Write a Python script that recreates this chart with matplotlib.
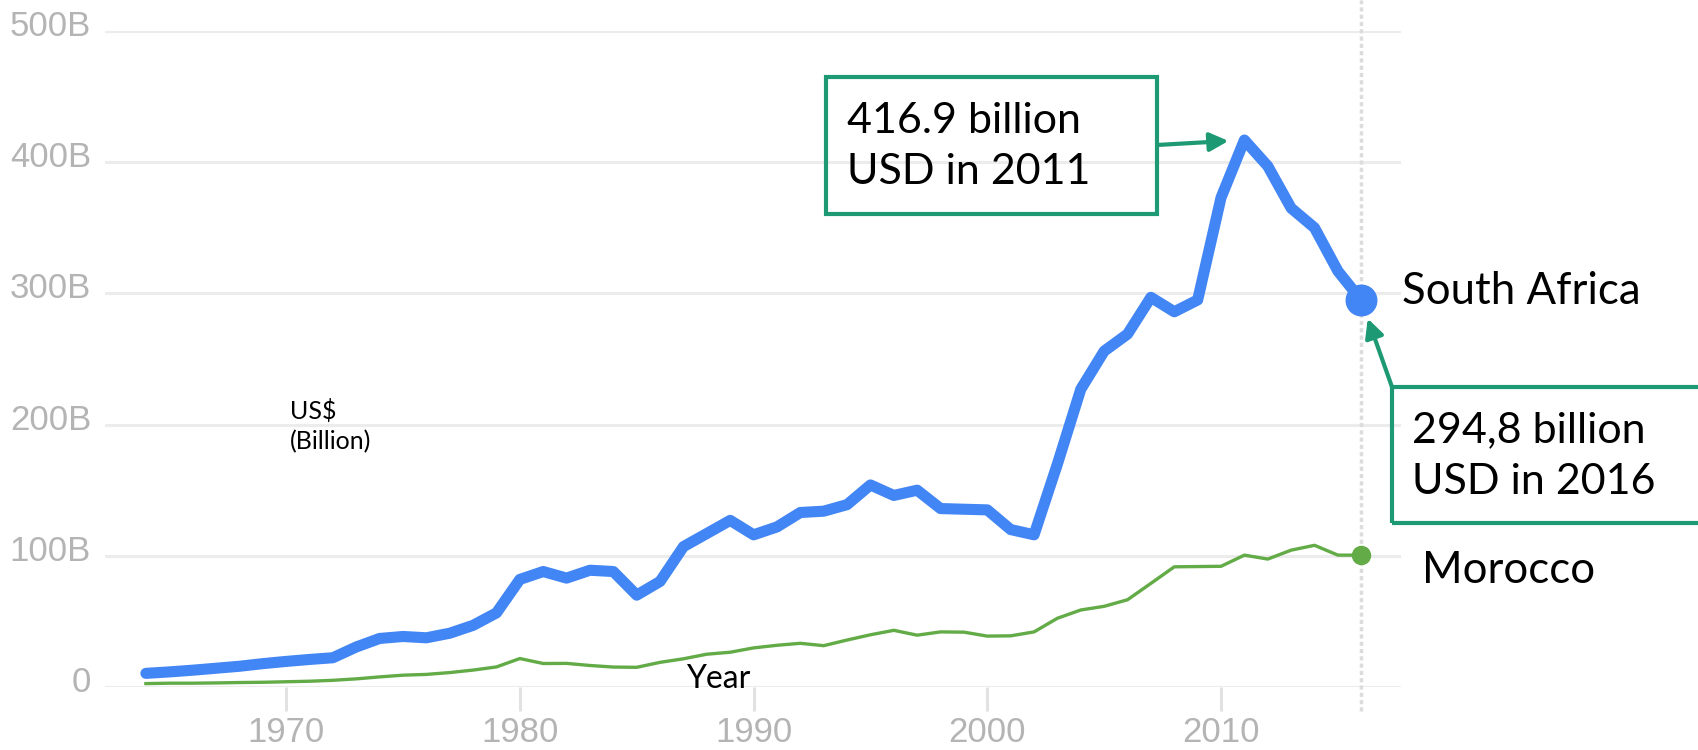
import matplotlib
matplotlib.use("Agg")
import matplotlib.pyplot as plt
from matplotlib.patches import Rectangle
from matplotlib.transforms import ScaledTranslation

# GDP, current US$ (billions)
years = list(range(1964, 2017))
south_africa = [10.4, 11.5, 12.8, 14.3, 15.8, 17.8, 19.5, 21.0, 22.3, 30.5,
                37.0, 38.5, 37.5, 41.0, 47.0, 56.5, 82.0, 88.0, 83.0, 89.0,
                88.0, 70.0, 80.5, 107.0, 117.0, 127.0, 116.0, 122.0, 133.0, 134.0,
                139.0, 154.0, 146.0, 150.0, 136.0, 135.5, 135.0, 120.0, 116.0, 170.0,
                227.0, 256.0, 269.0, 297.0, 286.0, 295.0, 373.0, 416.9, 397.0, 365.0,
                350.0, 317.0, 294.8]
morocco = [2.6, 2.9, 2.9, 3.1, 3.4, 3.6, 4.0, 4.4, 5.1, 6.2,
           7.7, 9.0, 9.6, 11.0, 12.9, 15.3, 21.7, 17.9, 18.0, 16.4,
           15.2, 15.0, 18.8, 21.5, 25.0, 26.5, 29.8, 31.8, 33.3, 31.5,
           35.8, 39.8, 43.2, 39.5, 42.0, 41.8, 38.8, 39.0, 42.0, 52.4,
           58.7, 61.5, 66.5, 79.0, 91.6, 91.8, 92.0, 100.5, 97.5, 104.3,
           108.0, 100.5, 100.5]

yticks = [0, 100, 200, 300, 400, 500]
ytick_labels = ["0", "100B", "200B", "300B", "400B", "500B"]
xticks = [1970, 1980, 1990, 2000, 2010]

peak_year, peak_val = 2011, 416.9
last_year, last_val = 2016, 294.8

BLUE = "#4285f4"
GREEN = "#62ab47"
TEAL = "#1d9a73"
GREY = "#b4b4b4"
W, H = 1699, 750
TXT = ["Lato", "DejaVu Sans"]

fig = plt.figure(figsize=(W / 100, H / 100), dpi=100)
ax = fig.add_axes([105 / W, 63 / H, 1296 / W, 656 / H])
ax.set_xlim(1962.25, 2017.7)
ax.set_ylim(0, 500)
for s in ax.spines.values():
    s.set_visible(False)
ax.set_axisbelow(True)
ax.yaxis.grid(True, color="#ececec", lw=2.2)

ax.set_yticks(yticks)
ax.set_yticklabels(ytick_labels)
ax.set_xticks(xticks)
ax.set_xticklabels([str(x) for x in xticks])
ax.tick_params(axis="y", length=0, pad=10, labelsize=25, labelcolor=GREY)
ax.tick_params(axis="x", length=17, width=2.2, color="#e2e2e2", pad=4,
               labelsize=25, labelcolor=GREY)
for lab in ax.get_xticklabels() + ax.get_yticklabels():
    lab.set_fontfamily(["Liberation Sans", "DejaVu Sans"])
shift = ScaledTranslation(0, -3.6 / 72, fig.dpi_scale_trans)
for lab in ax.get_yticklabels():
    lab.set_va("baseline")
    lab.set_transform(lab.get_transform() + shift)

# top edge of the frame trims the highest axis label
fig.add_artist(Rectangle((0, 1 - 12 / H), 100 / W, 12 / H, transform=fig.transFigure,
                         fc="white", ec="none", zorder=10))

# marker line for the last year
ax.axvline(last_year, ymin=-0.036, ymax=1 + 31 / 656, clip_on=False,
           color="#dcdcdc", lw=2.5, ls=(0, (1.2, 0.9)), zorder=1)

ax.plot(years, morocco, color=GREEN, lw=2.4, zorder=3)
ax.plot(years, south_africa, color=BLUE, lw=8, solid_joinstyle="round",
        solid_capstyle="round", zorder=4)
ax.plot([years[-1]], [morocco[-1]], "o", color=GREEN, ms=13, zorder=5, clip_on=False)
ax.plot([years[-1]], [south_africa[-1]], "o", color=BLUE, ms=22, zorder=5, clip_on=False)

ax.annotate("South Africa", xy=(years[-1], south_africa[-1]), xytext=(29, 6),
            textcoords="offset points", va="center", ha="left", fontsize=31.5,
            family=TXT)
ax.annotate("Morocco", xy=(years[-1], morocco[-1]), xytext=(44, -11),
            textcoords="offset points", va="center", ha="left", fontsize=31.5,
            family=TXT)

# callout boxes
fig.add_artist(Rectangle((826 / W, 536 / H), 331 / W, 137 / H, transform=fig.transFigure,
                         fill=False, ec=TEAL, lw=3, zorder=6))
fig.text(847 / W, 1 - 146.5 / H, f"{peak_val} billion\nUSD in {peak_year}",
         ha="left", va="center", fontsize=31, linespacing=1.42, family=TXT)
ax.annotate("", xy=(peak_year, peak_val), xytext=(1157 / W, 1 - 145 / H),
            textcoords="figure fraction",
            arrowprops=dict(arrowstyle="-|>", color=TEAL, lw=3, shrinkA=0,
                            shrinkB=11.5, mutation_scale=28))

fig.add_artist(Rectangle((1392 / W, 227 / H), 400 / W, 136 / H, transform=fig.transFigure,
                         fill=False, ec=TEAL, lw=3, zorder=6, clip_on=False))
fig.text(1412 / W, 1 - 456 / H, f"{last_val:.1f}".replace(".", ",") + f" billion\nUSD in {last_year}",
         ha="left", va="center", fontsize=31, linespacing=1.42, family=TXT)
ax.annotate("", xy=(last_year, last_val), xytext=(1392 / W, 1 - 387 / H),
            textcoords="figure fraction",
            arrowprops=dict(arrowstyle="-|>", color=TEAL, lw=3, shrinkA=0,
                            shrinkB=14, mutation_scale=28))

fig.text(290 / W, 1 - 426 / H, "US$\n(Billion)", ha="left", va="center",
         fontsize=18, linespacing=1.35, family=TXT)
fig.text(686 / W, 62 / H, "Year", ha="left", va="baseline", fontsize=23, family=TXT)

fig.savefig("out.png", dpi=100, facecolor="white")
